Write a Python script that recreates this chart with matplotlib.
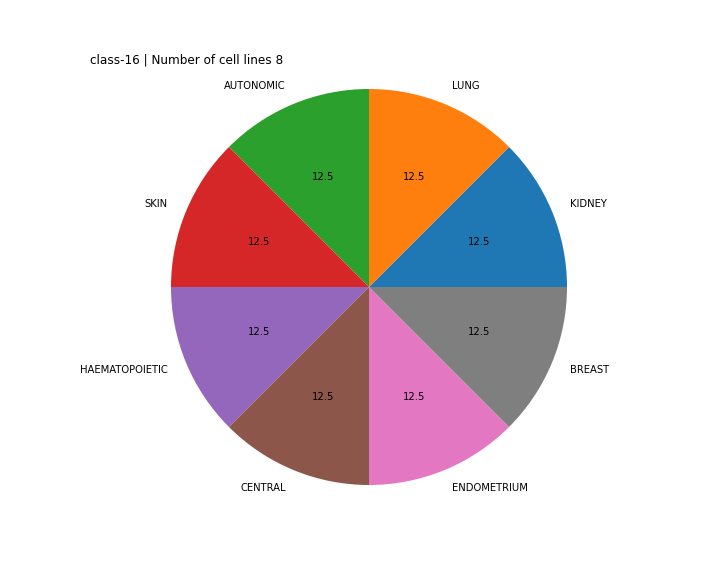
import matplotlib
matplotlib.use("Agg")
import matplotlib.pyplot as plt

tissues = ["KIDNEY", "LUNG", "AUTONOMIC", "SKIN", "HAEMATOPOIETIC",
           "CENTRAL", "ENDOMETRIUM", "BREAST"]
shares = [12.5, 12.5, 12.5, 12.5, 12.5, 12.5, 12.5, 12.5]
title = "class-16 | Number of cell lines 8"

fig = plt.figure(figsize=(10, 8), dpi=72)
ax = fig.add_axes([0.125, 0.1236, 0.775, 0.7563])

ax.pie(shares, labels=tissues, autopct="%.1f",
       textprops={"fontsize": 10})
ax.set_aspect("equal", adjustable="datalim")
ax.set_ylim(-1.1, 1.1)
ax.set_title(title, loc="left", fontsize=12)

fig.savefig("out.png", dpi=72)
